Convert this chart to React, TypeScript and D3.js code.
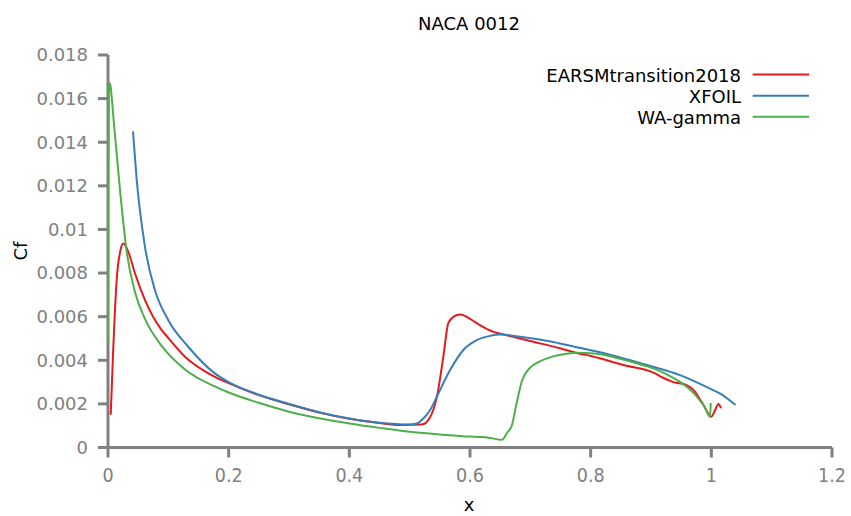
import React from "react";
import * as d3 from "d3";

type Pt = [number, number];

const xTicks = [0, 0.2, 0.4, 0.6, 0.8, 1, 1.2];
const yTicks = [0, 0.002, 0.004, 0.006, 0.008, 0.01, 0.012, 0.014, 0.016, 0.018];

const earsm: Pt[] = [
  [0.0045, 0.0015], [0.0088, 0.0046], [0.0144, 0.0077], [0.0207, 0.00905], [0.0254, 0.00935],
  [0.0337, 0.00897], [0.0448, 0.00798], [0.0613, 0.00676], [0.089, 0.00538], [0.1, 0.00502],
  [0.1276, 0.00416], [0.177, 0.00324], [0.2, 0.00295], [0.25, 0.0024], [0.3, 0.00198],
  [0.35, 0.0016], [0.4, 0.00132], [0.45, 0.00112], [0.484, 0.00103], [0.52, 0.00105],
  [0.534, 0.0014], [0.545, 0.0023], [0.556, 0.0042], [0.564, 0.0057], [0.573, 0.006],
  [0.584, 0.0061], [0.6, 0.0059], [0.617, 0.0056], [0.639, 0.0053], [0.661, 0.00515],
  [0.705, 0.00485], [0.749, 0.00455], [0.782, 0.0043], [0.8, 0.0042], [0.854, 0.00378],
  [0.904, 0.00343], [0.92, 0.0032], [0.937, 0.003], [0.959, 0.00286], [0.97, 0.00265],
  [0.987, 0.00195], [1.0, 0.00141], [1.006, 0.0017], [1.012, 0.002], [1.016, 0.0018],
];

const xfoil: Pt[] = [
  [0.0414, 0.0145], [0.0475, 0.0123], [0.0613, 0.0092], [0.078, 0.0072], [0.1, 0.00584],
  [0.133, 0.00462], [0.177, 0.0034], [0.2, 0.003], [0.25, 0.00242], [0.3, 0.002],
  [0.35, 0.00162], [0.4, 0.00133], [0.45, 0.00113], [0.5, 0.00105], [0.512, 0.0011],
  [0.523, 0.00134], [0.534, 0.00172], [0.545, 0.00233], [0.567, 0.00355], [0.589, 0.00447],
  [0.611, 0.00492], [0.633, 0.00512], [0.65, 0.00518], [0.683, 0.00508], [0.727, 0.0049],
  [0.782, 0.00457], [0.81, 0.0044], [0.893, 0.00378], [0.948, 0.00332], [1.003, 0.00263],
  [1.014, 0.00248], [1.04, 0.00195],
];

const waGamma: Pt[] = [
  [0, 0.0048], [0.0005, 0.012], [0.0015, 0.0165], [0.0035, 0.0167], [0.006, 0.0161],
  [0.01, 0.0148], [0.0199, 0.0118], [0.031, 0.00897], [0.0448, 0.00712], [0.0613, 0.0059],
  [0.089, 0.00466], [0.1276, 0.00358], [0.177, 0.0028], [0.2, 0.00252], [0.25, 0.00205],
  [0.3, 0.00164], [0.35, 0.00134], [0.4, 0.0011], [0.45, 0.0009], [0.5, 0.00072],
  [0.55, 0.0006], [0.6, 0.0005], [0.62, 0.00048], [0.635, 0.00043], [0.653, 0.00035],
  [0.662, 0.0007], [0.669, 0.00098], [0.677, 0.002], [0.686, 0.00305], [0.696, 0.00355],
  [0.705, 0.00378], [0.716, 0.00395], [0.738, 0.00418], [0.76, 0.0043], [0.777, 0.00434],
  [0.8, 0.00432], [0.816, 0.00428], [0.84, 0.00413], [0.865, 0.00395], [0.89, 0.00375],
  [0.909, 0.00357], [0.93, 0.0033], [0.948, 0.00301], [0.965, 0.00265], [0.976, 0.00233],
  [0.988, 0.0019], [0.998, 0.00141], [0.999, 0.00204],
];

const seriesNames = ["EARSMtransition2018", "XFOIL", "WA-gamma"];
const seriesColors = ["#e41a1c", "#377eb8", "#4daf4a"];
const seriesData = [earsm, xfoil, waGamma];

const W = 851;
const H = 516;
const axisColor = "#808080";

export default function App() {
  const x = d3.scaleLinear().domain([0, 1.2]).range([108, 832]);
  const y = d3.scaleLinear().domain([0, 0.018]).range([447.5, 55]);
  const line = d3
    .line<Pt>()
    .x((d) => x(d[0]))
    .y((d) => y(d[1]))
    .curve(d3.curveMonotoneX);

  const legendY = [74.5, 95.7, 116.7];

  return (
    <svg
      width={W}
      height={H}
      style={{ position: "absolute", left: 0, top: 0, background: "#fff" }}
      fontFamily="DejaVu Sans, sans-serif"
    >
      <text x={469} y={30} textAnchor="middle" fontSize={18} fill="#000">
        NACA 0012
      </text>

      {/* axes */}
      <line x1={x(0)} x2={x(1.2)} y1={y(0)} y2={y(0)} stroke={axisColor} strokeWidth={3} />
      <line x1={x(0)} x2={x(0)} y1={y(0)} y2={y(0.018)} stroke={axisColor} strokeWidth={3} />
      {xTicks.map((t) => (
        <g key={"x" + t}>
          <line x1={x(t)} x2={x(t)} y1={y(0)} y2={y(0) + 10} stroke={axisColor} strokeWidth={3} />
          <text
            x={x(t)}
            y={482}
            textAnchor="middle"
            fontSize={19.5}
            fill={axisColor}
            fontFamily="DejaVu Sans Condensed, DejaVu Sans, sans-serif"
            style={{ fontStretch: "condensed" }}
          >
            {String(t)}
          </text>
        </g>
      ))}
      {yTicks.map((t) => (
        <g key={"y" + t}>
          <line x1={x(0) - 10} x2={x(0)} y1={y(t)} y2={y(t)} stroke={axisColor} strokeWidth={3} />
          <text x={88} y={y(t) + 6.4} textAnchor="end" fontSize={18} fill={axisColor}>
            {String(+t.toFixed(3))}
          </text>
        </g>
      ))}

      <text x={469} y={511} textAnchor="middle" fontSize={18} fill="#000">
        x
      </text>
      <text
        transform={`translate(27,251) rotate(-90)`}
        textAnchor="middle"
        fontSize={18}
        fill="#000"
      >
        Cf
      </text>

      {/* series */}
      {seriesData.map((d, i) => (
        <path
          key={seriesNames[i]}
          d={line(d) || ""}
          fill="none"
          stroke={seriesColors[i]}
          strokeWidth={2}
          strokeLinejoin="round"
        />
      ))}

      {/* legend */}
      {seriesNames.map((n, i) => (
        <g key={"leg" + n}>
          <text x={741} y={legendY[i] + 7} textAnchor="end" fontSize={18} fill="#000">
            {n}
          </text>
          <line
            x1={752.7}
            x2={809}
            y1={legendY[i]}
            y2={legendY[i]}
            stroke={seriesColors[i]}
            strokeWidth={2}
          />
        </g>
      ))}
    </svg>
  );
}
